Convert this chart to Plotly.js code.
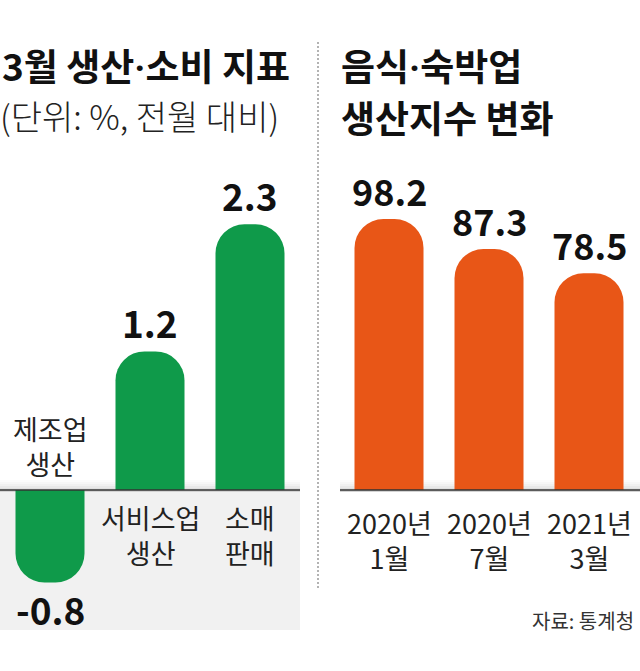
<!DOCTYPE html>
<html>
<head>
<meta charset="utf-8">
<script src="https://cdn.plot.ly/plotly-3.0.1.min.js"></script>
<style>
  html, body { margin: 0; padding: 0; background: #fff; }
  #chart { width: 640px; height: 671px; }
</style>
</head>
<body>
<div id="chart"></div>
<script>
// 3월 생산·소비 지표 (전월 대비 %)
const leftCats = ['제조업 생산', '서비스업 생산', '소매 판매'];
const leftVals = [-0.8, 1.2, 2.3];
// 음식·숙박업 생산지수
const rightCats = ['2020년 1월', '2020년 7월', '2021년 3월'];
const rightVals = [98.2, 87.3, 78.5];

const W = 640, H = 671;
const FONT = '"Noto Sans CJK KR", "Noto Sans", sans-serif';
const px = v => v / W;
const py = v => 1 - v / H;
// narrow middle dot instead of the full-width CJK one
const dot = '<span style="font-family:Roboto">·</span>';

const GREEN = '#0f9a4a';
const ORANGE = '#e85617';

const traces = [
  {
    type: 'bar', x: leftCats, y: leftVals, xaxis: 'x', yaxis: 'y',
    marker: { color: GREEN, cornerradius: 29 }, hoverinfo: 'skip'
  },
  {
    type: 'bar', x: rightCats, y: rightVals, xaxis: 'x2', yaxis: 'y2',
    marker: { color: ORANGE, cornerradius: 29 }, hoverinfo: 'skip'
  }
];

const annotations = [];

// value labels
function valueLabels(cats, vals, xa, ya, size) {
  cats.forEach((c, i) => {
    const v = vals[i];
    annotations.push({
      xref: xa, yref: ya, x: c, y: v, text: v.toFixed(1), showarrow: false,
      yanchor: 'middle', yshift: v < 0 ? -27 : 29,
      font: { family: FONT, size: size, color: '#111', weight: 700 }
    });
  });
}
valueLabels(leftCats, leftVals, 'x', 'y', 37);
valueLabels(rightCats, rightVals, 'x2', 'y2', 36);

// category labels: above the baseline for negative bars, below otherwise
function catLabels(cats, vals, xa, ya, belowShift, aboveShift) {
  cats.forEach((c, i) => {
    const neg = vals[i] < 0;
    annotations.push({
      xref: xa, yref: ya, x: c, y: 0, text: c.split(' ').join('<br>'), showarrow: false,
      yanchor: 'middle', yshift: neg ? aboveShift : belowShift,
      font: { family: FONT, size: 27, color: '#222' }
    });
  });
}
catLabels(leftCats, leftVals, 'x', 'y', -45, 44);
catLabels(rightCats, rightVals, 'x2', 'y2', -50, 44);

// titles
const titleFont = { family: FONT, size: 37, color: '#111', weight: 700 };
annotations.push(
  { xref: 'paper', yref: 'paper', x: px(0), y: py(65), xanchor: 'left', yanchor: 'middle',
    text: '3월 생산' + dot + '소비 지표', showarrow: false, font: titleFont },
  { xref: 'paper', yref: 'paper', x: px(-2), y: py(115), xanchor: 'left', yanchor: 'middle',
    text: '(단위: %, 전월 대비)', showarrow: false,
    font: { family: FONT, size: 34, color: '#222', weight: 300 } },
  { xref: 'paper', yref: 'paper', x: px(339), y: py(65), xanchor: 'left', yanchor: 'middle',
    text: '음식' + dot + '숙박업', showarrow: false, font: titleFont },
  { xref: 'paper', yref: 'paper', x: px(339), y: py(117), xanchor: 'left', yanchor: 'middle',
    text: '생산지수 변화', showarrow: false, font: titleFont },
  { xref: 'paper', yref: 'paper', x: px(636), y: py(620), xanchor: 'right', yanchor: 'middle',
    text: '자료: 통계청', showarrow: false,
    font: { family: FONT, size: 20, color: '#333' } }
);

// decorations
const shapes = [
  // grey area under the left baseline
  { type: 'rect', xref: 'paper', yref: 'paper', x0: 0, x1: px(300), y0: py(630), y1: py(490),
    fillcolor: '#f1f1f1', line: { width: 0 }, layer: 'below' },
  // dashed divider
  { type: 'line', xref: 'paper', yref: 'paper', x0: px(318), x1: px(318), y0: py(588), y1: py(42),
    line: { color: '#9a9a9a', width: 1.5, dash: '2px,2px' } }
];
// soft shadow just above each baseline
const shade = ['#fbfbfb', '#f6f6f6', '#f0f0f0', '#e8e8e8', '#dfdfdf', '#d4d4d4'];
[[0, 300], [340, 640]].forEach(([a, b]) => {
  shade.forEach((c, k) => {
    shapes.push({ type: 'rect', xref: 'paper', yref: 'paper', x0: px(a), x1: px(b),
      y0: py(480 + k * 2 + 2), y1: py(480 + k * 2), fillcolor: c, line: { width: 0 }, layer: 'below' });
  });
  shapes.push({ type: 'line', xref: 'paper', yref: 'paper', x0: px(a), x1: px(b),
    y0: py(490), y1: py(490), line: { color: '#333', width: 1.5 } });
});

const hidden = { showgrid: false, zeroline: false, showticklabels: false, ticks: '', fixedrange: true };

const layout = {
  width: W, height: H,
  margin: { l: 0, r: 0, t: 0, b: 0 },
  paper_bgcolor: '#fff', plot_bgcolor: 'rgba(0,0,0,0)',
  showlegend: false,
  bargap: 0.31,
  xaxis: Object.assign({}, hidden, { domain: [0, px(300)], range: [-0.5, 2.5], anchor: 'y' }),
  yaxis: Object.assign({}, hidden, { domain: [py(630), py(150)], range: [-140 / 115.5, 340 / 115.5], anchor: 'x' }),
  xaxis2: Object.assign({}, hidden, { domain: [px(339), px(639)], range: [-0.5, 2.5], anchor: 'y2' }),
  yaxis2: Object.assign({}, hidden, { domain: [py(490), py(150)], range: [0, 340 / 2.76], anchor: 'x2' }),
  annotations: annotations,
  shapes: shapes
};

Plotly.newPlot('chart', traces, layout, { staticPlot: true, displayModeBar: false });
</script>
</body>
</html>
